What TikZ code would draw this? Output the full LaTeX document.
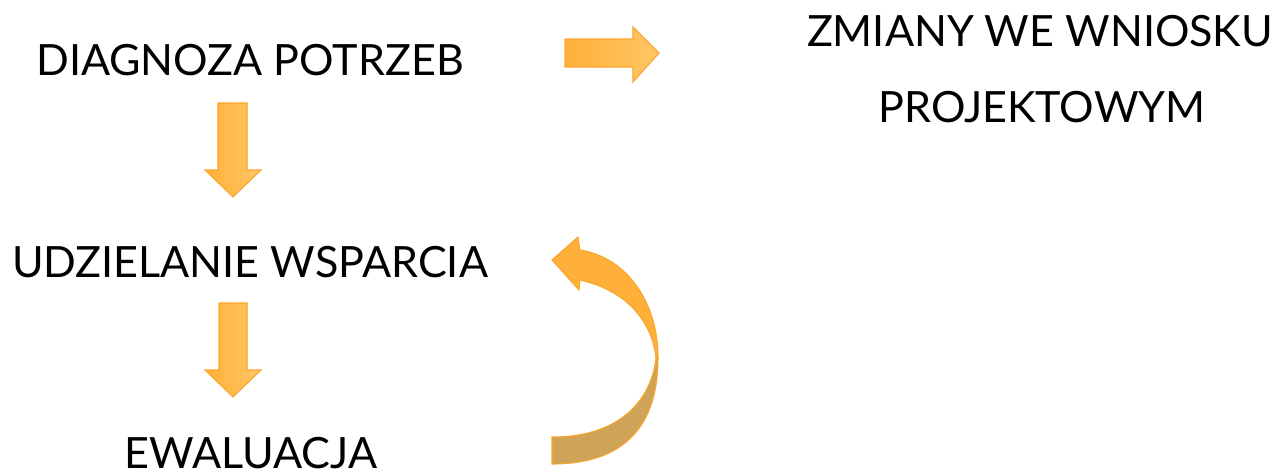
\documentclass[tikz,border=0pt]{standalone}
\usepackage{fontspec}
\setmainfont{Lato}
\definecolor{arrowfill}{RGB}{255,176,58}
\definecolor{arrowlight}{RGB}{255,198,100}
\definecolor{arrowedge}{RGB}{250,165,45}
\definecolor{arrowdark}{RGB}{208,164,88}
\tikzset{
  label text/.style={anchor=base,inner sep=0pt,font=\fontsize{32.3}{38}\selectfont},
  block arrow/.style={draw=arrowedge,line width=0.8pt,line join=miter,left color=arrowfill,right color=arrowlight},
}
\begin{document}
\begin{tikzpicture}[x=0.75pt,y=0.75pt,yscale=-1,xscale=1]
\useasboundingbox (0,0) rectangle (1272,475);

% Text Node
\node[label text] (diag) at (250,75) {DIAGNOZA POTRZEB};
% Text Node
\node[label text] (zmiany) at (1040,46) {ZMIANY WE WNIOSKU};
% Text Node
\node[label text] (proj) at (1042,122) {PROJEKTOWYM};
% Text Node
\node[label text] (wsparcie) at (250,277) {UDZIELANIE WSPARCIA};
% Text Node
\node[label text] (ewal) at (251,468) {EWALUACJA};

%Shape: Right Arrow
\draw[block arrow] (565,39) -- (633,39) -- (633,27) -- (659,53) -- (633,82) -- (633,67) -- (565,67) -- cycle ;
%Shape: Down Arrow
\draw[block arrow] (218,103) -- (247,103) -- (247,170) -- (261,170) -- (233,197) -- (205,170) -- (218,170) -- cycle ;
%Shape: Down Arrow
\draw[block arrow] (219,303) -- (247,303) -- (247,370) -- (261,370) -- (233,397) -- (205,370) -- (219,370) -- cycle ;

%Shape: Curved Arrow, lower part
\draw[draw=arrowedge,line width=0.8pt,fill=arrowdark] (656,358) .. controls (652,395) and (625,437) .. (552,437) -- (552,464) .. controls (630,464) and (658,420) .. (658,358) -- cycle ;
%Shape: Curved Arrow, upper part
\draw[draw=arrowedge,line width=0.8pt,fill=arrowfill] (658,358) .. controls (658,300) and (625,257) .. (580,250) -- (578,237) -- (552,260) -- (579,290) -- (580,280) .. controls (625,290) and (652,320) .. (656,358) -- cycle ;

\end{tikzpicture}
\end{document}
